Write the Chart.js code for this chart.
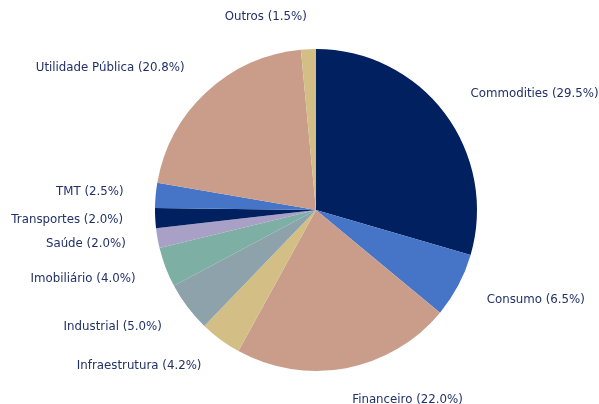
<!DOCTYPE html>
<html>
<head>
<meta charset="utf-8">
<script src="https://cdn.jsdelivr.net/npm/chart.js@4"></script>
<style>
  html, body { margin: 0; padding: 0; background: #fff; }
  #wrap { width: 599px; height: 404px; position: relative; }
</style>
</head>
<body>
<div id="wrap"><canvas id="pie-chart"></canvas></div>
<script>
const setores = ["Commodities", "Consumo", "Financeiro", "Infraestrutura", "Industrial",
  "Imobiliário", "Saúde", "Transportes", "TMT", "Utilidade Pública", "Outros"];
const pesos = [29.5, 6.5, 22.0, 4.2, 5.0, 4.0, 2.0, 2.0, 2.5, 20.8, 1.5];
const cores = ["#002060", "#4674C6", "#C99D8A", "#D3BF86", "#8DA2AB",
  "#7DAFA4", "#A8A0C6", "#002060", "#4674C6", "#C99D8A", "#D3BF86"];

// rótulos fora da pizza, estilo Excel
const rotulos = {
  id: "rotulos",
  afterDatasetsDraw(chart) {
    const ctx = chart.ctx,
      arcs = chart.getDatasetMeta(0).data;
    ctx.save();
    ctx.font = "11.8px 'DejaVu Sans'";
    ctx.fillStyle = "#213068";
    ctx.textBaseline = "middle";
    arcs.forEach((arc, i) => {
      const meio = (arc.startAngle + arc.endAngle) / 2,
        r = arc.outerRadius * 1.2,
        x = arc.x + Math.cos(meio) * r,
        y = arc.y + Math.sin(meio) * r;
      ctx.textAlign = Math.cos(meio) >= 0 ? "left" : "right";
      ctx.fillText(`${setores[i]} (${pesos[i].toFixed(1)}%)`, x, y);
    });
    ctx.restore();
  },
};

const ctx = document.getElementById("pie-chart").getContext("2d");
new Chart(ctx, {
  type: "pie",
  data: {
    labels: setores,
    datasets: [{ data: pesos, backgroundColor: cores, borderWidth: 0 }],
  },
  options: {
    responsive: true,
    maintainAspectRatio: false,
    animation: false,
    layout: { padding: { left: 155, right: 122, top: 49, bottom: 33 } },
    plugins: { legend: { display: false }, tooltip: { enabled: false } },
  },
  plugins: [rotulos],
});
</script>
</body>
</html>
